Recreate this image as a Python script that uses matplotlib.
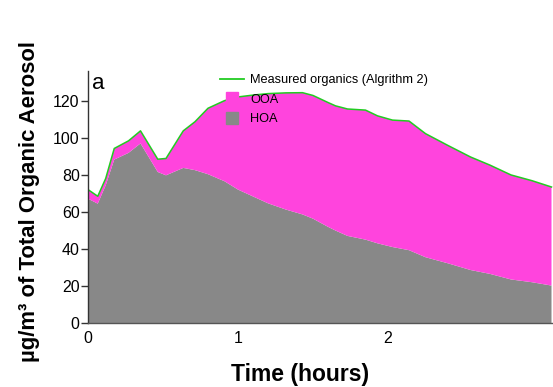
import matplotlib
matplotlib.use("Agg")
import matplotlib.pyplot as plt
from matplotlib.lines import Line2D
import numpy as np

# Data
time_h = [0, 0.065, 0.118, 0.175, 0.27, 0.35, 0.465, 0.52, 0.635, 0.713, 0.80, 0.91,
          1.0, 1.1, 1.2, 1.32, 1.43, 1.5, 1.6, 1.65, 1.73, 1.85, 1.93, 2.03, 2.14,
          2.25, 2.4, 2.55, 2.68, 2.82, 2.96, 3.09]
measured = [72.0, 68.4, 78.0, 94.2, 98.3, 103.7, 88.4, 88.8, 103.7, 108.6, 115.9, 120.0,
            122.0, 123.0, 123.8, 124.2, 124.3, 122.8, 119.0, 117.2, 115.5, 114.9, 111.8,
            109.5, 109.0, 102.2, 95.8, 89.6, 85.2, 79.9, 76.8, 73.4]
hoa = [67.1, 64.4, 74.3, 88.2, 91.8, 96.9, 81.5, 79.7, 83.7, 82.5, 80.3, 76.5,
       72.0, 68.3, 64.6, 61.2, 58.6, 56.3, 51.9, 49.9, 47.0, 45.0, 43.0,
       41.0, 39.3, 35.5, 32.2, 28.6, 26.5, 23.5, 22.0, 20.2]
ooa = list(np.array(measured) - np.array(hoa))

series_labels = ["Measured organics (Algrithm 2)", "OOA", "HOA"]
xticks = [0, 1, 2]
yticks = [0, 20, 40, 60, 80, 100, 120]

c_hoa = "#888888"
c_ooa = "#FF44DD"
c_meas = "#22CC22"

plt.rcParams["font.family"] = ["Liberation Sans", "DejaVu Sans"]

fig = plt.figure(figsize=(5.53, 3.87), dpi=100)
ax = fig.add_axes([88 / 553, 1 - 323 / 387, 1 - 88 / 553, (323 - 71) / 387])

ax.stackplot(time_h, hoa, ooa, colors=[c_hoa, c_ooa], linewidth=0)
ax.plot(time_h, measured, color=c_meas, lw=1.1)

ax.set_xlim(0, 3.1)
ax.set_ylim(0, 136)
ax.set_xticks(xticks)
ax.set_xticklabels([str(v) for v in xticks])
ax.set_yticks(yticks)
ax.tick_params(axis="x", length=0, pad=6, labelsize=11.5)
ax.tick_params(axis="y", length=5, width=1, labelsize=11.5, pad=1, color="#333333")
for s in ["top", "right"]:
    ax.spines[s].set_visible(False)
ax.spines["left"].set_color("#333333")
ax.spines["bottom"].set_color("#555555")
ax.spines["left"].set_linewidth(1.0)
ax.spines["bottom"].set_linewidth(1.0)

fig.text(300 / 553, 1 - 375 / 387, "Time (hours)", fontsize=16.5, fontweight="bold",
         ha="center", va="center")
fig.text(30 / 553, 1 - 202 / 387, "µg/m³ of Total Organic Aerosol", rotation=90,
         fontsize=15.9, fontweight="bold", ha="center", va="center")

fig.text(92 / 553, 1 - 89 / 387, "a", fontsize=16, ha="left", va="baseline")

handles = [
    Line2D([], [], color=c_meas, lw=1.3),
    Line2D([], [], color=c_ooa, marker="s", linestyle="none", markersize=8),
    Line2D([], [], color=c_hoa, marker="s", linestyle="none", markersize=8),
]
leg = fig.legend(handles, series_labels, loc="upper left",
                 bbox_to_anchor=(220 / 553, 1 - 74 / 387), frameon=False,
                 prop={"size": 9.2}, handlelength=1.9,
                 handletextpad=0.45, labelspacing=0.6, borderpad=0, borderaxespad=0)

fig.savefig("out.png", dpi=100)
